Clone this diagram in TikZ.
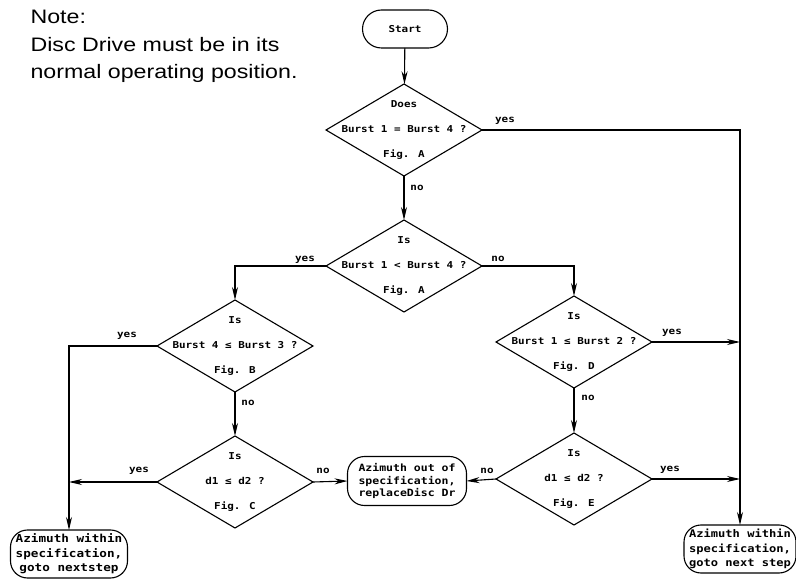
\documentclass[tikz,border=0pt]{standalone}
\usepackage{fontspec}
\setmainfont{Liberation Sans}
\newfontfamily\notefont{Liberation Sans}[FakeStretch=1.19]
\newfontfamily\plotfont{DejaVu Sans Mono}[FakeStretch=1.15]
\usetikzlibrary{shapes.geometric, arrows.meta}

\begin{document}
\begin{tikzpicture}[x=1pt, y=-1pt, line width=1.1pt,
  every node/.style={font=\plotfont\bfseries},
  decision/.style={diamond, draw, inner sep=0pt, outer sep=0pt, minimum width=156pt, minimum height=92pt},
  question/.style={align=center, inner sep=0pt, font=\plotfont\bfseries\fontsize{9.5}{25}\selectfont},
  terminal/.style={rectangle, draw, rounded corners=17pt, inner sep=0pt, outer sep=0pt, align=center,
    font=\plotfont\bfseries\fontsize{11}{14.5}\selectfont},
  answer/.style={inner sep=0pt, font=\plotfont\bfseries\fontsize{9.5}{11}\selectfont},
  arr/.style={-{Stealth[length=13pt, width=6pt]}}]
  \useasboundingbox (0,0) rectangle (796,580);

  % Note
  \node[anchor=north west, align=left, inner sep=0pt, font=\notefont\fontsize{19.5}{27.5}\selectfont] (note) at (30,10)
    {Note:\\Disc Drive must be in its\\normal operating position.};

  % Start and end boxes
  \node[terminal, minimum width=85pt, minimum height=38pt, rounded corners=19pt, font=\plotfont\bfseries\fontsize{9.5}{11}\selectfont] (start) at (405,29) {Start};
  \node[terminal, minimum width=117pt, minimum height=48pt] (endL) at (69,554)
    {Azimuth within\\specification,\\goto nextstep};
  \node[terminal, minimum width=119pt, minimum height=49pt, font=\plotfont\bfseries\fontsize{10}{12.5}\selectfont] (endM) at (407,481)
    {Azimuth out of\\specification,\\replaceDisc Dr};
  \node[terminal, minimum width=112pt, minimum height=48pt, font=\plotfont\bfseries\fontsize{10.5}{14.5}\selectfont] (endR) at (740,549)
    {Azimuth within\\specification,\\goto next step};

  % Decisions
  \node[decision] (d1) at (404,130) {};
  \node[question] (q1) at (d1) {Does\\Burst 1 = Burst 4 ?\\Fig. A};
  \node[decision] (d2) at (404,266) {};
  \node[question] (q2) at (d2) {Is\\Burst 1 < Burst 4 ?\\Fig. A};
  \node[decision] (d3) at (235,346) {};
  \node[question] (q3) at (d3) {Is\\Burst 4 ≤ Burst 3 ?\\Fig. B};
  \node[decision] (d4) at (574,342) {};
  \node[question] (q4) at (d4) {Is\\Burst 1 ≤ Burst 2 ?\\Fig. D};
  \node[decision] (d5) at (235,482) {};
  \node[question] (q5) at (d5) {Is\\d1 ≤ d2 ?\\Fig. C};
  \node[decision] (d6) at (574,479) {};
  \node[question] (q6) at (d6) {Is\\d1 ≤ d2 ?\\Fig. E};

  % Connectors
  \draw[arr] (start) -- (d1);
  \draw[arr] (d1.east) -| (endR.north);
  \draw[arr] (d1.south) -- (d2.north);
  \draw[arr] (d2.west) -| (d3.north);
  \draw[arr] (d2.east) -| (d4.north);
  \draw[arr] (d3.west) -| (endL.north);
  \draw[arr] (d3.south) -- (d5.north);
  \draw[arr] (d4.east) -- (d4.east -| endR.north);
  \draw[arr] (d4.south) -- (d6.north);
  \draw[arr] (d5.west) -- (d5.west -| endL.north);
  \draw[arr] (d5.east) -- (endM.west);
  \draw[arr] (d6.west) -- (endM.east);
  \draw[arr] (d6.east) -- (d6.east -| endR.north);

  % Answers
  \node[answer] (y1) at (505,121) {yes};
  \node[answer] (n1) at (417,188) {no};
  \node[answer] (y2) at (305,260) {yes};
  \node[answer] (n2) at (498,259) {no};
  \node[answer] (y3) at (127,336) {yes};
  \node[answer] (n3) at (248,403) {no};
  \node[answer] (y4) at (672,333) {yes};
  \node[answer] (n4) at (588,398) {no};
  \node[answer] (y5) at (139,471) {yes};
  \node[answer] (n5) at (323,471) {no};
  \node[answer] (n6) at (487,471) {no};
  \node[answer] (y6) at (670,470) {yes};
\end{tikzpicture}
\end{document}
